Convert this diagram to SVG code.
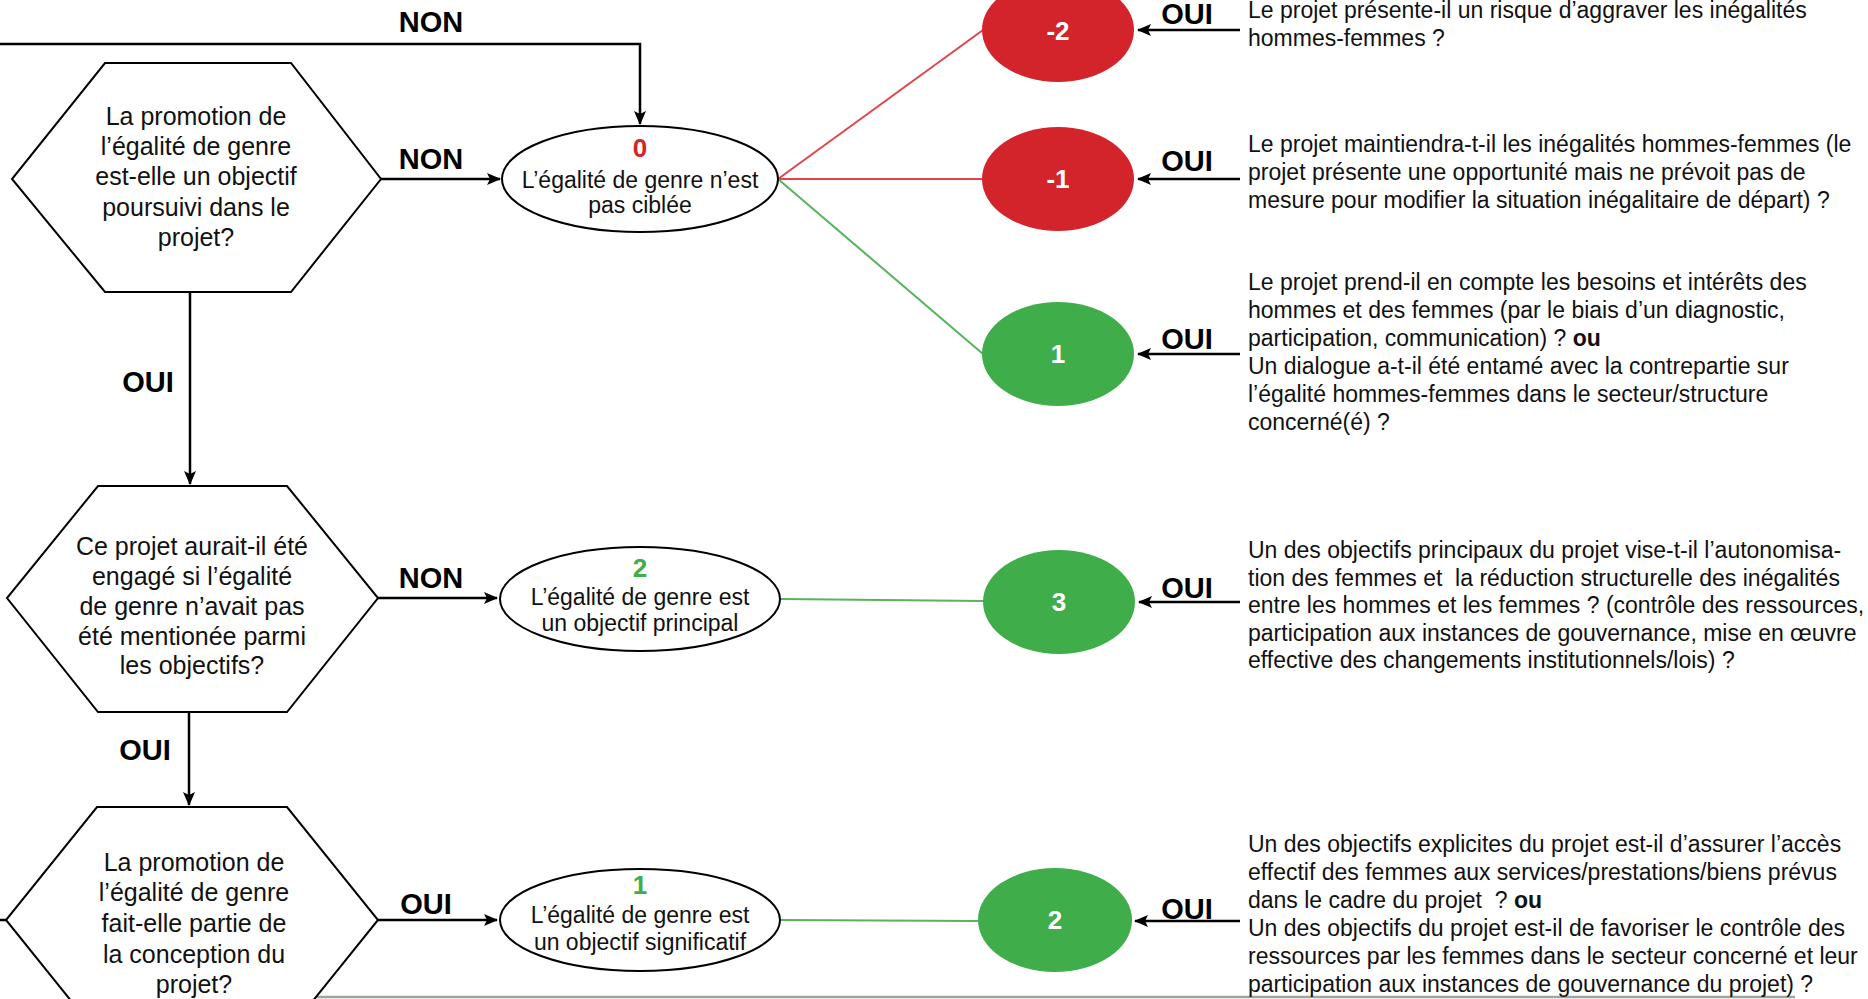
<svg xmlns="http://www.w3.org/2000/svg" width="1868" height="999" viewBox="0 0 1868 999">
<defs>
<marker id="ah" markerUnits="userSpaceOnUse" markerWidth="14" markerHeight="12" refX="13" refY="6" orient="auto">
<path d="M0,0 L14,6 L0,12 L3,6 Z" fill="#000"/>
</marker>
<style>
.hex{fill:#fff;stroke:#000;stroke-width:2}
.ell{fill:#fff;stroke:#000;stroke-width:2}
.conn{fill:none;stroke:#000;stroke-width:2.5}
.red{fill:#d3232b}
.grn{fill:#3fad49}
.lred{stroke:#e2444a;stroke-width:2;fill:none}
.lgrn{stroke:#55b45c;stroke-width:2;fill:none}
.ht{font-family:"Liberation Sans",Arial,sans-serif;font-size:25px;fill:#111;text-anchor:middle}
.et{font-family:"Liberation Sans",Arial,sans-serif;font-size:23px;fill:#111;text-anchor:middle}
.rt{font-family:"Liberation Sans",Arial,sans-serif;font-size:23px;fill:#111}
.lab{font-family:"Liberation Sans",Arial,sans-serif;font-size:29px;font-weight:bold;fill:#000;text-anchor:middle}
.num{font-family:"Liberation Sans",Arial,sans-serif;font-size:26px;font-weight:bold;text-anchor:middle}
.cn{font-family:"Liberation Sans",Arial,sans-serif;font-size:26px;font-weight:bold;fill:#fff;text-anchor:middle}
</style>
</defs>
<rect width="1868" height="999" fill="#fff"/>

<g id="connectors">
<path class="conn" d="M0,44 H640 V124" marker-end="url(#ah)"/>
<path class="conn" d="M381,179 H500" marker-end="url(#ah)"/>
<path class="conn" d="M190,292 V484" marker-end="url(#ah)"/>
<path class="conn" d="M378,598 H497" marker-end="url(#ah)"/>
<path class="conn" d="M189,712 V805" marker-end="url(#ah)"/>
<path class="conn" d="M378,920 H497" marker-end="url(#ah)"/>
<path class="conn" d="M0,920 H6"/>
<line class="lred" x1="778" y1="179" x2="983" y2="30"/>
<line class="lred" x1="778" y1="179" x2="983" y2="179"/>
<line class="lgrn" x1="778" y1="179" x2="983" y2="354"/>
<line class="lgrn" x1="781" y1="599" x2="984" y2="601"/>
<line class="lgrn" x1="781" y1="920" x2="979" y2="921"/>
<path class="conn" d="M1240,30 H1138" marker-end="url(#ah)"/>
<path class="conn" d="M1240,179 H1138" marker-end="url(#ah)"/>
<path class="conn" d="M1240,354 H1138" marker-end="url(#ah)"/>
<path class="conn" d="M1240,602 H1139" marker-end="url(#ah)"/>
<path class="conn" d="M1240,921 H1135" marker-end="url(#ah)"/>
<text class="lab" x="431" y="32">NON</text>
<text class="lab" x="431" y="169">NON</text>
<text class="lab" x="148" y="392">OUI</text>
<text class="lab" x="431" y="588">NON</text>
<text class="lab" x="145" y="760">OUI</text>
<text class="lab" x="426" y="914">OUI</text>
<text class="lab" x="1187" y="24">OUI</text>
<text class="lab" x="1187" y="171">OUI</text>
<text class="lab" x="1187" y="349">OUI</text>
<text class="lab" x="1187" y="598">OUI</text>
<text class="lab" x="1187" y="919">OUI</text>
<line x1="111" y1="997" x2="1795" y2="997" stroke="#9ea79e" stroke-width="2.5"/>
</g>

<g id="q1">
<polygon class="hex" points="105,63 291,63 381,179 291,292 105,292 12,179"/>
<text class="ht" x="196" y="125">La promotion de</text>
<text class="ht" x="196" y="155">l’égalité de genre</text>
<text class="ht" x="196" y="185">est-elle un objectif</text>
<text class="ht" x="196" y="216">poursuivi dans le</text>
<text class="ht" x="196" y="246">projet?</text>
</g>

<g id="q2">
<polygon class="hex" points="98,486 287,486 378,598 287,712 98,712 7,598"/>
<text class="ht" x="192" y="555">Ce projet aurait-il été</text>
<text class="ht" x="192" y="585">engagé si l’égalité</text>
<text class="ht" x="192" y="615">de genre n’avait pas</text>
<text class="ht" x="192" y="645">été mentionée parmi</text>
<text class="ht" x="192" y="674">les objectifs?</text>
</g>

<g id="q3">
<polygon class="hex" points="97,807 287,807 378,920 287,1033 97,1033 6,920"/>
<text class="ht" x="194" y="871">La promotion de</text>
<text class="ht" x="194" y="901">l’égalité de genre</text>
<text class="ht" x="194" y="932">fait-elle partie de</text>
<text class="ht" x="194" y="963">la conception du</text>
<text class="ht" x="194" y="993">projet?</text>
</g>

<g id="e0">
<ellipse class="ell" cx="640" cy="179" rx="138" ry="53"/>
<text class="num" x="640" y="157" fill="#d3232b">0</text>
<text class="et" x="640" y="188">L’égalité de genre n’est</text>
<text class="et" x="640" y="213">pas ciblée</text>
</g>

<g id="e2">
<ellipse class="ell" cx="640" cy="599" rx="140" ry="52"/>
<text class="num" x="640" y="577" fill="#3fad49">2</text>
<text class="et" x="640" y="605">L’égalité de genre est</text>
<text class="et" x="640" y="631">un objectif principal</text>
</g>

<g id="e1">
<ellipse class="ell" cx="640" cy="920" rx="140" ry="51"/>
<text class="num" x="640" y="894" fill="#3fad49">1</text>
<text class="et" x="640" y="923">L’égalité de genre est</text>
<text class="et" x="640" y="950">un objectif significatif</text>
</g>

<g id="cm2">
<ellipse class="red" cx="1058" cy="30" rx="76" ry="52"/>
<text class="cn" x="1058" y="40">-2</text>
</g>
<g id="cm1">
<ellipse class="red" cx="1058" cy="179" rx="76" ry="52"/>
<text class="cn" x="1058" y="188">-1</text>
</g>
<g id="cp1">
<ellipse class="grn" cx="1058" cy="354" rx="76" ry="52"/>
<text class="cn" x="1058" y="363">1</text>
</g>
<g id="cp3">
<ellipse class="grn" cx="1059" cy="602" rx="76" ry="52"/>
<text class="cn" x="1059" y="611">3</text>
</g>
<g id="cp2">
<ellipse class="grn" cx="1055" cy="920" rx="77" ry="52"/>
<text class="cn" x="1055" y="929">2</text>
</g>

<g id="t1">
<text class="rt" x="1248" y="18">Le projet présente-il un risque d’aggraver les inégalités</text>
<text class="rt" x="1248" y="46">hommes-femmes ?</text>
</g>
<g id="t2">
<text class="rt" x="1248" y="152">Le projet maintiendra-t-il les inégalités hommes-femmes (le</text>
<text class="rt" x="1248" y="180">projet présente une opportunité mais ne prévoit pas de</text>
<text class="rt" x="1248" y="208">mesure pour modifier la situation inégalitaire de départ) ?</text>
</g>
<g id="t3">
<text class="rt" x="1248" y="290">Le projet prend-il en compte les besoins et intérêts des</text>
<text class="rt" x="1248" y="318">hommes et des femmes (par le biais d’un diagnostic,</text>
<text class="rt" x="1248" y="346">participation, communication) ? <tspan font-weight="bold">ou</tspan></text>
<text class="rt" x="1248" y="374">Un dialogue a-t-il été entamé avec la contrepartie sur</text>
<text class="rt" x="1248" y="402">l’égalité hommes-femmes dans le secteur/structure</text>
<text class="rt" x="1248" y="430">concerné(é) ?</text>
</g>
<g id="t4">
<text class="rt" x="1248" y="558">Un des objectifs principaux du projet vise-t-il l’autonomisa-</text>
<text class="rt" x="1248" y="586" xml:space="preserve">tion des femmes et  la réduction structurelle des inégalités</text>
<text class="rt" x="1248" y="613">entre les hommes et les femmes ? (contrôle des ressources,</text>
<text class="rt" x="1248" y="641">participation aux instances de gouvernance, mise en œuvre</text>
<text class="rt" x="1248" y="668">effective des changements institutionnels/lois) ?</text>
</g>
<g id="t5">
<text class="rt" x="1248" y="852">Un des objectifs explicites du projet est-il d’assurer l’accès</text>
<text class="rt" x="1248" y="880">effectif des femmes aux services/prestations/biens prévus</text>
<text class="rt" x="1248" y="908" xml:space="preserve">dans le cadre du projet  ? <tspan font-weight="bold">ou</tspan></text>
<text class="rt" x="1248" y="936">Un des objectifs du projet est-il de favoriser le contrôle des</text>
<text class="rt" x="1248" y="964">ressources par les femmes dans le secteur concerné et leur</text>
<text class="rt" x="1248" y="992">participation aux instances de gouvernance du projet) ?</text>
</g>
</svg>
